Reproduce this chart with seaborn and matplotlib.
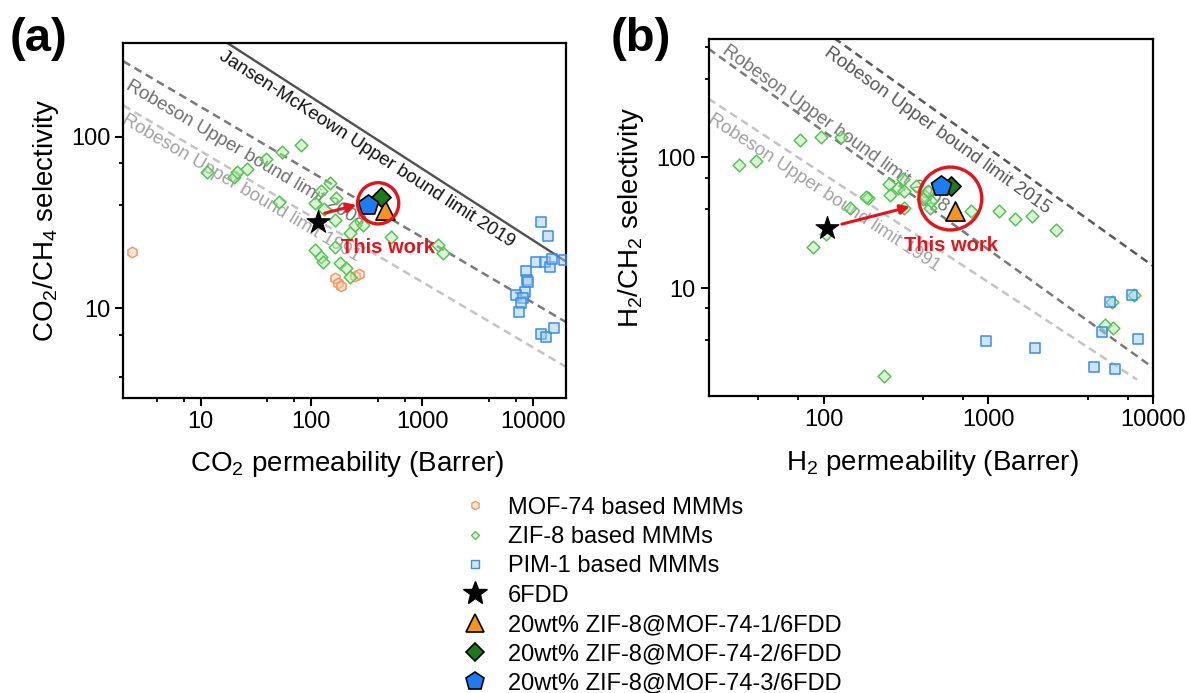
import numpy as np
import matplotlib
matplotlib.use("Agg")
import matplotlib.pyplot as plt
import seaborn as sns
from matplotlib.lines import Line2D
from matplotlib.ticker import FixedLocator, NullFormatter

# ---------------- data : panel (a) CO2/CH4 ----------------
mof74_a_x = [2.4, 165, 175, 185, 250, 268]
mof74_a_y = [21.2, 15.0, 14.0, 13.4, 15.5, 15.9]

zif8_a_x = [11.5, 19.9, 21.4, 26.3, 38.9, 54, 80.7, 50.8, 147, 123, 107, 168, 163, 247, 293,
            222, 107, 123, 127, 181, 207, 222, 163, 528, 1400, 1553, 130]
zif8_a_y = [62, 58, 62, 65, 74, 81, 89, 41.4, 54, 48, 41, 44, 32.7, 30.6, 30.6,
            27.4, 21.9, 20, 18.7, 18.3, 17.1, 15.3, 22.9, 25.9, 23.4, 20.9, 38]

pim1_a_x = [11860, 13600, 10800, 12880, 14300, 15000, 19300, 8600, 8790, 9100, 8510, 7130,
            8200, 7820, 7500, 11860, 13100, 15600]
pim1_a_y = [32, 26.4, 18.7, 18.7, 17.3, 19.3, 19.1, 16.4, 14.6, 14.3, 12.5, 12,
            11.5, 10.7, 9.5, 7.1, 6.8, 7.7]

fdd_a = (115, 32)
zm1_a = (461, 37.4)
zm2_a = (424, 44.8)
zm3_a = (326, 40)

# upper-bound lines (end points)
jm2019_a_x, jm2019_a_y = [2, 20000], [866, 18.7]
rob2008_a_x, rob2008_a_y = [2, 20000], [275, 8.3]
rob1991_a_x, rob1991_a_y = [2, 20000], [152, 4.55]

circle_a = (401, 40.9)
arrow_a = [(132, 35.8), (255, 40)]
thiswork_a = (494, 22.7)

# ---------------- data : panel (b) H2/CH4 ----------------
zif8_b_x = [30.7, 38.7, 71.9, 95.8, 127, 86.6, 103, 145, 185, 251, 254, 282, 303, 306, 363,
            410, 432, 440, 309, 451, 789, 1158, 1449, 1849, 2570, 232, 5080, 5710, 5620, 7660, 180, 402]
zif8_b_y = [87.4, 94.3, 136, 142, 142, 20.8, 25.9, 40.9, 48.9, 62.5, 51.8, 57.9, 68.2, 55.6, 60.7,
            50.9, 55.6, 41.4, 40.9, 46.6, 38.6, 39.1, 33.7, 35.8, 27.8, 2.13, 5.2, 5.0, 7.9, 8.8, 49.4, 48]

pim1_b_x = [962, 1920, 4400, 5850, 8150, 4920, 5500, 7500]
pim1_b_y = [3.95, 3.5, 2.5, 2.4, 4.1, 4.6, 7.9, 8.85]

fdd_b = (105, 28.7)
zm1_b = (624, 39.1)
zm2_b = (596, 60.8)
zm3_b = (519, 60.8)

rob2015_b_x, rob2015_b_y = [100, 10000], [933, 14.8]
rob2008_b_x, rob2008_b_y = [20, 10000], [677, 2.47]
rob1991_b_x, rob1991_b_y = [20, 8000], [281, 2.0]

circle_b = (588, 48.5)
arrow_b = [(129, 30.9), (334, 42)]
thiswork_b = (596, 21.1)

legend_labels = ["MOF-74 based MMMs", "ZIF-8 based MMMs", "PIM-1 based MMMs", "6FDD",
                 "20wt% ZIF-8@MOF-74-1/6FDD", "20wt% ZIF-8@MOF-74-2/6FDD",
                 "20wt% ZIF-8@MOF-74-3/6FDD"]

# ---------------- style ----------------
sns.set_theme(style="ticks")
plt.rcParams["font.family"] = ["Liberation Sans", "DejaVu Sans"]
plt.rcParams["mathtext.fontset"] = "custom"
plt.rcParams["mathtext.rm"] = "Liberation Sans"
plt.rcParams["mathtext.it"] = "Liberation Sans:italic"
plt.rcParams["mathtext.bf"] = "Liberation Sans:bold"
for k in ["text.color", "axes.labelcolor", "xtick.color", "ytick.color", "axes.edgecolor"]:
    plt.rcParams[k] = "black"

RED = "#E5141B"
MOF_FACE, MOF_EDGE = (0.99, 0.80, 0.68, 0.45), "#F29A63"
ZIF_FACE, ZIF_EDGE = (0.70, 0.92, 0.66, 0.45), "#58C458"
PIM_FACE, PIM_EDGE = (0.62, 0.80, 0.97, 0.50), "#3A8DEB"
C_TRI, C_DIA, C_PEN = "#F7931E", "#1B7A1B", "#1C7CF0"

fig = plt.figure(figsize=(11.87, 6.93), dpi=100)
axA = fig.add_axes([0.1039, 0.4257, 0.3730, 0.5118])
axB = fig.add_axes([0.5969, 0.4286, 0.3745, 0.5147])

DASH = (0, (3.2, 2.0))


def setup_axes(ax, xlim, ylim, xmaj, xmin, ymaj, ymin):
    ax.set_xscale("log")
    ax.set_yscale("log")
    ax.set_xlim(*xlim)
    ax.set_ylim(*ylim)
    ax.xaxis.set_major_locator(FixedLocator(xmaj))
    ax.xaxis.set_minor_locator(FixedLocator(xmin))
    ax.yaxis.set_major_locator(FixedLocator(ymaj))
    ax.yaxis.set_minor_locator(FixedLocator(ymin))
    ax.set_xticklabels([str(v) for v in xmaj])
    ax.set_yticklabels([str(v) for v in ymaj])
    ax.xaxis.set_minor_formatter(NullFormatter())
    ax.yaxis.set_minor_formatter(NullFormatter())
    ax.tick_params(which="major", direction="out", length=5.5, width=1.5, labelsize=17,
                   colors="black", pad=4)
    ax.tick_params(which="minor", direction="out", length=3, width=1.3, colors="black")
    for s in ax.spines.values():
        s.set_visible(True)
        s.set_linewidth(1.6)
        s.set_color("black")
    ax.grid(False)


setup_axes(axA, (2, 20000), (3, 350), [10, 100, 1000, 10000],
           [4, 7, 40, 70, 400, 700, 4000, 7000], [10, 100], [4, 7, 40, 70])
setup_axes(axB, (20, 10000), (1.5, 800), [100, 1000, 10000],
           [40, 70, 400, 700, 4000, 7000], [10, 100], [4, 7, 40, 70, 400, 700])


def uline(ax, xs, ys, color, ls, lw):
    sns.lineplot(x=xs, y=ys, ax=ax, color=color, linestyle=ls, linewidth=lw,
                 sort=False, estimator=None, zorder=1)


uline(axA, jm2019_a_x, jm2019_a_y, "#505050", "-", 1.7)
uline(axA, rob2008_a_x, rob2008_a_y, "#7a7a7a", DASH, 1.8)
uline(axA, rob1991_a_x, rob1991_a_y, "#c4c4c4", DASH, 1.8)
uline(axB, rob2015_b_x, rob2015_b_y, "#5a5a5a", DASH, 1.8)
uline(axB, rob2008_b_x, rob2008_b_y, "#7a7a7a", DASH, 1.8)
uline(axB, rob1991_b_x, rob1991_b_y, "#c4c4c4", DASH, 1.8)


def line_label(ax, xs, ys, anchor, text, color):
    p = ax.transData.transform(np.column_stack([xs, ys]))
    ang = np.degrees(np.arctan2(p[1, 1] - p[0, 1], p[1, 0] - p[0, 0]))
    ax.text(anchor[0], anchor[1], text, rotation=ang, rotation_mode="anchor",
            ha="left", va="top", fontsize=13.5, color=color, zorder=2)


line_label(axA, jm2019_a_x, jm2019_a_y, (16.6, 330), "Jansen-McKeown Upper bound limit 2019", "#111111")
line_label(axA, rob2008_a_x, rob2008_a_y, (2.39, 222), "Robeson Upper bound limit 2008", "#6e6e6e")
line_label(axA, rob1991_a_x, rob1991_a_y, (2.2, 140), "Robeson Upper bound limit 1991", "#a2a2a2")
line_label(axB, rob2015_b_x, rob2015_b_y, (110, 738), "Robeson Upper bound limit 2015", "#555555")
line_label(axB, rob2008_b_x, rob2008_b_y, (26.7, 759), "Robeson Upper bound limit 2008", "#747474")
line_label(axB, rob1991_b_x, rob1991_b_y, (21.6, 228), "Robeson Upper bound limit 1991", "#a2a2a2")


def pts(ax, x, y, marker, s, face, edge, lw=1.1, z=3):
    sns.scatterplot(x=x, y=y, ax=ax, marker=marker, s=s, color=face, edgecolor=edge,
                    linewidth=lw, zorder=z, legend=False)


for ax, mx, my, zx, zy, px, py in [
    (axA, mof74_a_x, mof74_a_y, zif8_a_x, zif8_a_y, pim1_a_x, pim1_a_y),
    (axB, [], [], zif8_b_x, zif8_b_y, pim1_b_x, pim1_b_y),
]:
    if len(mx):
        pts(ax, mx, my, "h", 58, MOF_FACE, MOF_EDGE)
    pts(ax, zx, zy, "D", 42, ZIF_FACE, ZIF_EDGE)
    pts(ax, px, py, "s", 50, PIM_FACE, PIM_EDGE)

for ax, fdd, z1, z2, z3 in [(axA, fdd_a, zm1_a, zm2_a, zm3_a), (axB, fdd_b, zm1_b, zm2_b, zm3_b)]:
    pts(ax, [fdd[0]], [fdd[1]], "*", 300, "black", "black", 0.8, 5)
    pts(ax, [z1[0]], [z1[1]], "^", 190, C_TRI, "black", 1.2, 5)
    pts(ax, [z2[0]], [z2[1]], "D", 95, C_DIA, "black", 1.2, 5)
    pts(ax, [z3[0]], [z3[1]], "p", 230, C_PEN, "black", 1.2, 6)

# highlight circles, arrows, "This work"
axA.scatter([circle_a[0]], [circle_a[1]], s=880, marker="o", facecolor="none",
            edgecolor=RED, linewidth=2.4, zorder=7)
axB.scatter([circle_b[0]], [circle_b[1]], s=2050, marker="o", facecolor="none",
            edgecolor=RED, linewidth=2.4, zorder=7)
for ax, arr, tw in [(axA, arrow_a, thiswork_a), (axB, arrow_b, thiswork_b)]:
    ax.annotate("", xy=arr[1], xytext=arr[0],
                arrowprops=dict(arrowstyle="-|>", color=RED, lw=2.2, mutation_scale=14,
                                shrinkA=0, shrinkB=0), zorder=7)
    ax.text(tw[0], tw[1], "This work", color=RED, fontsize=14.5, fontweight="bold",
            ha="center", va="center", zorder=8)

# axis labels
axA.set_xlabel(r"CO$_2$ permeability (Barrer)", fontsize=20)
axA.set_ylabel(r"CO$_2$/CH$_4$ selectivity", fontsize=20)
axB.set_xlabel(r"H$_2$ permeability (Barrer)", fontsize=20)
axB.set_ylabel(r"H$_2$/CH$_2$ selectivity", fontsize=20)
axA.xaxis.set_label_coords(0.505, -0.144)
axB.xaxis.set_label_coords(0.504, -0.146)
axA.yaxis.set_label_coords(-0.14, 0.5)
axB.yaxis.set_label_coords(-0.14, 0.5)

fig.text(10 / 1187, 1 - 17 / 693, "(a)", fontsize=34, fontweight="bold", ha="left", va="top")
fig.text(611 / 1187, 1 - 17 / 693, "(b)", fontsize=34, fontweight="bold", ha="left", va="top")

# legend
handles = [
    Line2D([], [], ls="None", marker="h", ms=6, mfc=MOF_FACE, mec=MOF_EDGE, mew=1.0),
    Line2D([], [], ls="None", marker="D", ms=4.5, mfc=ZIF_FACE, mec=ZIF_EDGE, mew=1.0),
    Line2D([], [], ls="None", marker="s", ms=5.5, mfc=PIM_FACE, mec=PIM_EDGE, mew=1.0),
    Line2D([], [], ls="None", marker="*", ms=18, mfc="black", mec="black"),
    Line2D([], [], ls="None", marker="^", ms=13, mfc=C_TRI, mec="black", mew=1.2),
    Line2D([], [], ls="None", marker="D", ms=9.5, mfc=C_DIA, mec="black", mew=1.2),
    Line2D([], [], ls="None", marker="p", ms=13.5, mfc=C_PEN, mec="black", mew=1.2),
]
fig.legend(handles, legend_labels, loc="upper left", bbox_to_anchor=(0.3822, 0.2935),
           frameon=False, fontsize=17, handlelength=1.2, handletextpad=0.8,
           labelspacing=0.31, borderpad=0.3, borderaxespad=0)

fig.savefig("out.png", dpi=100)
